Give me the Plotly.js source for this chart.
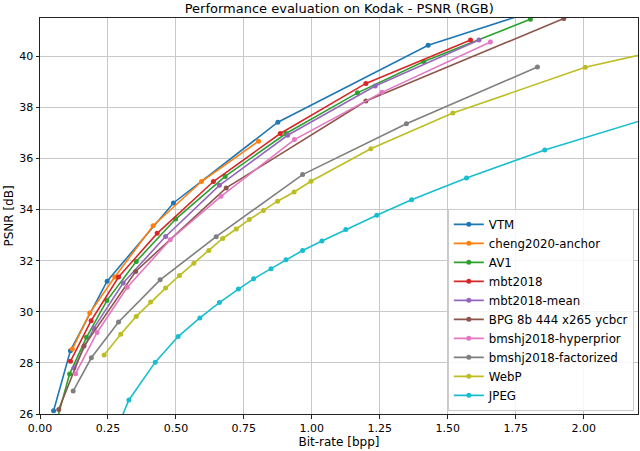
<!DOCTYPE html>
<html>
<head>
<meta charset="utf-8">
<script src="https://cdn.plot.ly/plotly-3.0.1.min.js"></script>
<style>
  html, body { margin: 0; padding: 0; background: #fff; }
  #chart { width: 640px; height: 451px; }
</style>
</head>
<body>
<div id="chart"></div>
<script>
// bit-rate (bpp) / PSNR (dB) per codec
var vtmX = [0.05, 0.112, 0.247, 0.491, 0.875, 1.428, 2.0];
var vtmY = [26.13, 28.48, 31.2, 34.26, 37.42, 40.43, 42.4];

var chengX = [0.119, 0.183, 0.275, 0.416, 0.594, 0.804];
var chengY = [28.54, 29.95, 31.36, 33.37, 35.1, 36.68];

var av1X = [0.062, 0.109, 0.171, 0.246, 0.354, 0.499, 0.681, 0.905, 1.168, 1.412, 1.804];
var av1Y = [25.75, 27.57, 29.0, 30.44, 31.97, 33.63, 35.3, 36.98, 38.57, 39.8, 41.45];

var mbtX = [0.112, 0.188, 0.289, 0.431, 0.638, 0.884, 1.199, 1.584];
var mbtY = [28.06, 29.65, 31.36, 33.07, 35.1, 36.98, 38.94, 40.64];

var mbtMeanX = [0.125, 0.198, 0.306, 0.462, 0.66, 0.911, 1.233, 1.615];
var mbtMeanY = [27.8, 29.36, 31.13, 32.95, 34.95, 36.91, 38.84, 40.64];

var bpgX = [0.069, 0.162, 0.352, 0.685, 1.199, 1.927];
var bpgY = [26.18, 28.66, 31.58, 34.85, 38.25, 41.48];

var hyperX = [0.131, 0.21, 0.321, 0.479, 0.666, 0.936, 1.258, 1.657];
var hyperY = [27.58, 29.19, 30.96, 32.82, 34.52, 36.74, 38.59, 40.56];

var factX = [0.122, 0.189, 0.289, 0.442, 0.648, 0.966, 1.348, 1.83];
var factY = [26.9, 28.2, 29.6, 31.25, 32.94, 35.37, 37.36, 39.58];

var webpX = [0.236, 0.297, 0.354, 0.407, 0.462, 0.513, 0.566, 0.621, 0.672, 0.722,
             0.77, 0.822, 0.874, 0.935, 0.997, 1.217, 1.519, 2.006, 2.6];
var webpY = [28.31, 29.12, 29.82, 30.38, 30.93, 31.42, 31.9, 32.4, 32.87, 33.24,
             33.61, 33.97, 34.33, 34.69, 35.11, 36.38, 37.78, 39.57, 41.0];

var jpegX = [0.28, 0.327, 0.424, 0.508, 0.588, 0.66, 0.73, 0.786, 0.85, 0.905,
             0.966, 1.037, 1.125, 1.239, 1.367, 1.569, 1.857, 2.4];
var jpegY = [25.35, 26.55, 28.03, 29.03, 29.76, 30.36, 30.89, 31.29, 31.69, 32.04,
             32.4, 32.77, 33.22, 33.78, 34.39, 35.24, 36.33, 38.1];

var names = ['VTM', 'cheng2020-anchor', 'AV1', 'mbt2018', 'mbt2018-mean',
             'BPG 8b 444 x265 ycbcr', 'bmshj2018-hyperprior', 'bmshj2018-factorized',
             'WebP', 'JPEG'];
var xs = [vtmX, chengX, av1X, mbtX, mbtMeanX, bpgX, hyperX, factX, webpX, jpegX];
var ys = [vtmY, chengY, av1Y, mbtY, mbtMeanY, bpgY, hyperY, factY, webpY, jpegY];
var colors = ['#1f77b4', '#ff7f0e', '#2ca02c', '#d62728', '#9467bd',
              '#8c564b', '#e377c2', '#7f7f7f', '#bcbd22', '#17becf'];

var traces = [];
for (var i = 0; i < names.length; i++) {
    traces.push({
        x: xs[i],
        y: ys[i],
        name: names[i],
        type: 'scatter',
        mode: 'lines+markers',
        line: {color: colors[i], width: 1.6},
        marker: {color: colors[i], size: 5}
    });
}

var family = 'DejaVu Sans, sans-serif';
var tickFont = {family: family, color: '#000', size: 11};
var labelFont = {family: family, color: '#000', size: 12};

var layout = {
    width: 640,
    height: 451,
    margin: {l: 40, r: 2, t: 18, b: 37},
    paper_bgcolor: '#fff',
    plot_bgcolor: '#fff',
    font: tickFont,
    showlegend: true,
    title: {
        text: 'Performance evaluation on Kodak - PSNR (RGB)',
        font: {family: family, size: 13, color: '#000'},
        x: 0.53,
        xanchor: 'center',
        yref: 'container',
        y: 0.982,
        yanchor: 'middle'
    },
    xaxis: {
        range: [0, 2.2],
        tickvals: [0, 0.25, 0.5, 0.75, 1.0, 1.25, 1.5, 1.75, 2.0],
        tickformat: '.2f',
        tickfont: tickFont,
        showgrid: true,
        gridcolor: '#c8c8c8',
        gridwidth: 1,
        zeroline: false,
        showline: true,
        linecolor: '#222',
        linewidth: 1,
        mirror: true,
        ticks: 'outside',
        ticklen: 3.5,
        tickcolor: '#222',
        title: {text: 'Bit-rate [bpp]', font: labelFont, standoff: 2}
    },
    yaxis: {
        range: [26, 41.5],
        tickvals: [26, 28, 30, 32, 34, 36, 38, 40],
        tickfont: tickFont,
        showgrid: true,
        gridcolor: '#c8c8c8',
        gridwidth: 1,
        zeroline: false,
        showline: true,
        linecolor: '#222',
        linewidth: 1,
        mirror: true,
        ticks: 'outside',
        ticklen: 3.5,
        tickcolor: '#222',
        title: {text: 'PSNR [dB]', font: labelFont, standoff: 3}
    },
    legend: {
        x: 0.993,
        xanchor: 'right',
        y: 0.008,
        yanchor: 'bottom',
        bgcolor: 'rgba(255,255,255,0.85)',
        bordercolor: '#cccccc',
        borderwidth: 1,
        font: {family: family, size: 11.8, color: '#000'},
        tracegroupgap: 0
    }
};

Plotly.newPlot('chart', traces, layout, {displayModeBar: false, staticPlot: true});
</script>
</body>
</html>
